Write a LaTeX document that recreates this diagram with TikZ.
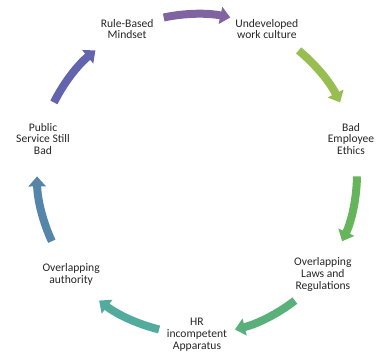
\documentclass[tikz,border=0pt]{standalone}
\usepackage{fontspec}
\setmainfont{Carlito}
\usetikzlibrary{arrows.meta}
\definecolor{cycpurple}{HTML}{8064A2}
\definecolor{cyclime}{HTML}{98BE52}
\definecolor{cycgreen}{HTML}{66B45C}
\definecolor{cycsea}{HTML}{5AB07A}
\definecolor{cycteal}{HTML}{52AB9C}
\definecolor{cycsteel}{HTML}{5586AA}
\definecolor{cycindigo}{HTML}{6264AE}
\begin{document}
\begin{tikzpicture}
[every node/.style={align=center,inner sep=0pt,text=black!85,font=\fontsize{11.6}{11.8}\selectfont},
cycarrow/.style={line width=8pt,-{Triangle[width=17pt,length=10pt]}}]
	\useasboundingbox (-197pt,-180pt) rectangle (181pt,174pt);
	\node (rule) at (115.71:161pt) {Rule-Based\\Mindset};
	\node (culture) at (64.29:161pt) {Undeveloped\\work culture};
	\node (ethics) at (12.86:158pt) {Bad\\Employee\\Ethics};
	\node (laws) at (-38.57:161pt) {Overlapping\\Laws and\\Regulations};
	\node (hr) at (-90:161pt) {HR\\incompetent\\Apparatus};
	\node (authority) at (-141.43:161pt) {Overlapping\\authority};
	\node (service) at (167.14:158pt) {Public\\Service Still\\Bad};
	\foreach \m/\c in {90/cycpurple,38.57/cyclime,-12.86/cycgreen,-64.29/cycsea,
		-115.71/cycteal,-167.14/cycsteel,141.43/cycindigo}
		\draw[cycarrow,\c] (\m+12:160pt) arc[start angle=\m+12,end angle=\m-12,radius=160pt];
\end{tikzpicture}
\end{document}
